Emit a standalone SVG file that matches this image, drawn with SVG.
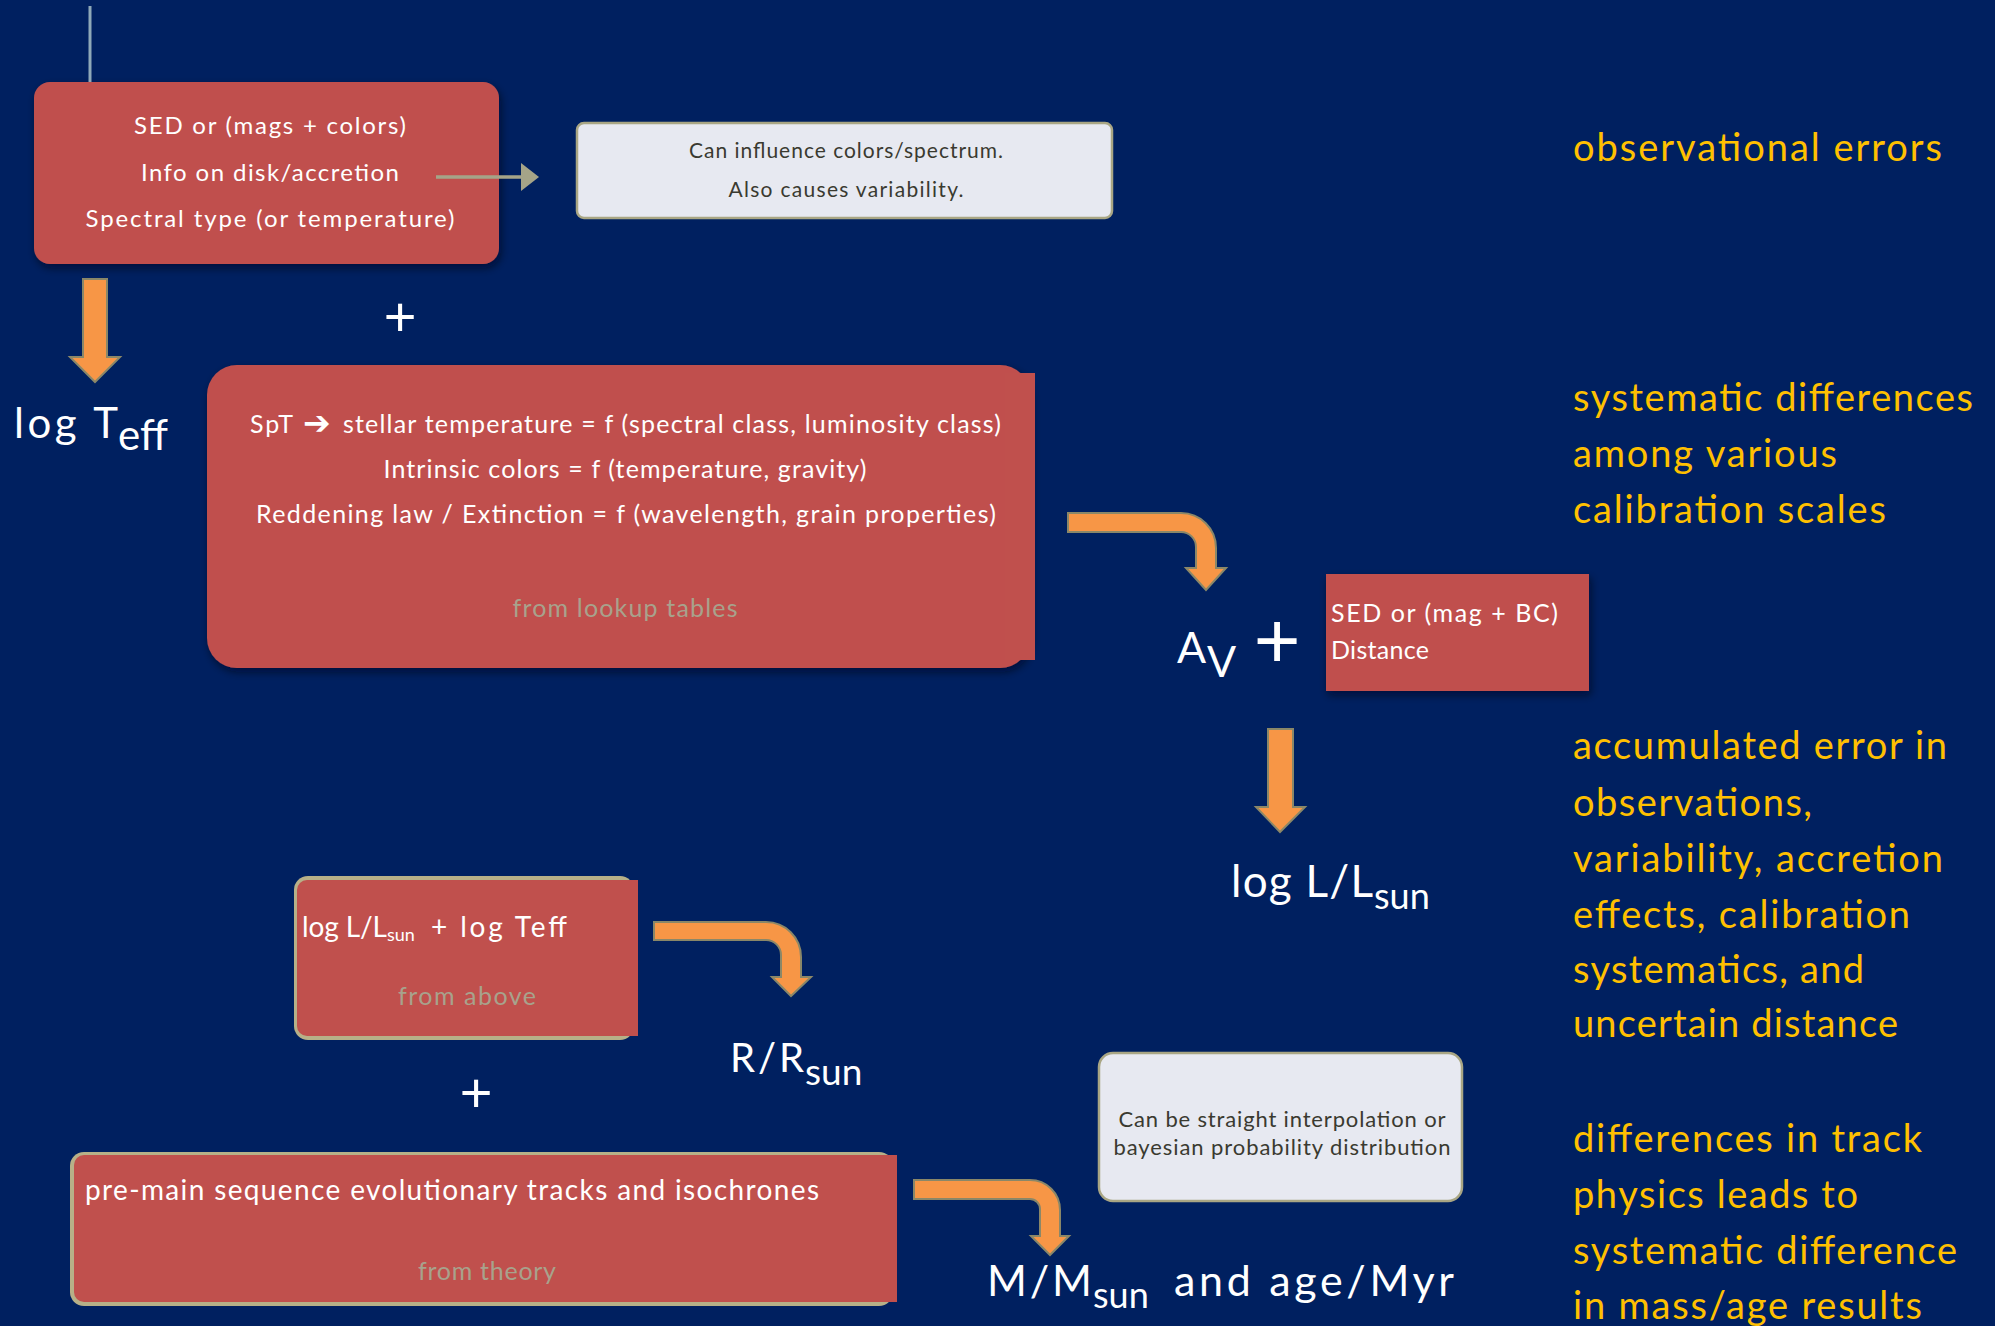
<svg xmlns="http://www.w3.org/2000/svg" width="1995" height="1326" viewBox="0 0 1995 1326">
<defs>
<filter id="sh" x="-10%" y="-10%" width="120%" height="130%">
<feDropShadow dx="2" dy="4" stdDeviation="4" flood-color="#000010" flood-opacity="0.55"/>
</filter>
<style>
text{font-family:Lato,"DejaVu Sans",sans-serif}
.w{fill:#ffffff}
.dk{fill:#3a3a30}
.tan{fill:#a8a28c}
.y{fill:#ffc000;font-size:38px}
.red{fill:#c0504d}
.lt{fill:#e7e9f1;stroke:#a9a684;stroke-width:2.5}
.bd{fill:#b7b088}
.oa{fill:#f79646;stroke:#8a8768;stroke-width:2}
.plus{font-family:"Liberation Sans",sans-serif;fill:#ffffff}
.m{text-anchor:middle}
.arw{font-family:"DejaVu Sans",sans-serif;font-weight:bold}
</style>
</defs>
<rect width="1995" height="1326" fill="#002060"/>

<g id="node-observations">
<rect class="red" x="34" y="82" width="465" height="182" rx="16" filter="url(#sh)"/>
<text class="w m" x="270" y="134" font-size="24" textLength="272">SED or (mags + colors)</text>
<text class="w m" x="270" y="181" font-size="24" textLength="258">Info on disk/accretion</text>
<text class="w m" x="270" y="227" font-size="24" textLength="369">Spectral type (or temperature)</text>
</g>

<g id="node-note-accretion">
<rect class="lt" x="577" y="123" width="535" height="95" rx="7"/>
<text class="dk m" x="846" y="158" font-size="21" textLength="314">Can influence colors/spectrum.</text>
<text class="dk m" x="846" y="197" font-size="21" textLength="235">Also causes variability.</text>
</g>

<g id="node-plus1"><text class="plus m" x="400" y="336" font-size="56">+</text></g>

<g id="node-logteff">
<text class="w" x="14" y="438" font-size="42" textLength="104">log T</text>
<text class="w" x="118" y="450" font-size="42" textLength="50">eff</text>
</g>

<g id="node-lookup">
<rect class="red" x="207" y="365" width="823" height="303" rx="30" filter="url(#sh)"/>
<rect class="red" x="1005" y="373" width="30" height="287"/>
<text class="w" x="250" y="433" font-size="25" textLength="43">SpT</text>
<text class="w arw" x="303" y="434" font-size="33">➔</text>
<text class="w" x="343" y="433" font-size="25" textLength="658">stellar temperature = f (spectral class,  luminosity class)</text>
<text class="w m" x="625" y="478" font-size="25" textLength="483">Intrinsic colors = f (temperature, gravity)</text>
<text class="w m" x="626" y="523" font-size="25" textLength="740">Reddening law / Extinction = f (wavelength, grain properties)</text>
<text class="tan m" x="625" y="617" font-size="25" textLength="225">from lookup tables</text>
</g>

<g id="node-av">
<text class="w" x="1177" y="663" font-size="43">A</text>
<text class="w" x="1207" y="677" font-size="43">V</text>
</g>
<g id="node-plus2"><text class="plus m" x="1277" y="668" font-size="80">+</text></g>

<g id="node-sed">
<rect class="red" x="1326" y="574" width="263" height="117" filter="url(#sh)"/>
<text class="w" x="1331" y="622" font-size="25" textLength="227">SED or (mag + BC)</text>
<text class="w" x="1331" y="659" font-size="25" textLength="98">Distance</text>
</g>

<g id="node-loglum">
<text class="w" x="1231" y="897" font-size="44" textLength="142">log L/L</text>
<text class="w" x="1374" y="909" font-size="36">sun</text>
</g>

<g id="node-radius-input">
<rect class="bd" x="294" y="876" width="340" height="164" rx="14"/>
<rect class="red" x="297" y="880" width="330" height="156" rx="10"/>
<rect class="red" x="600" y="880" width="38" height="156"/>
<text class="w" x="302" y="937" font-size="28" textLength="85">log L/L</text>
<text class="w" x="387" y="941" font-size="18">sun</text>
<text class="w" x="431" y="937" font-size="28" textLength="136">+ log Teff</text>
<text class="tan m" x="467" y="1005" font-size="25" textLength="138">from above</text>
</g>

<g id="node-radius">
<text class="w" x="730" y="1072" font-size="40" textLength="74">R/R</text>
<text class="w" x="805" y="1085" font-size="37">sun</text>
</g>

<g id="node-plus3"><text class="plus m" x="476" y="1112" font-size="56">+</text></g>

<g id="node-tracks">
<rect class="bd" x="70" y="1152" width="823" height="154" rx="14"/>
<rect class="red" x="74" y="1155" width="800" height="147" rx="10"/>
<rect class="red" x="850" y="1155" width="47" height="147"/>
<text class="w" x="85" y="1200" font-size="28" textLength="734">pre-main sequence evolutionary tracks and isochrones</text>
<text class="tan m" x="487" y="1280" font-size="25" textLength="138">from theory</text>
</g>

<g id="node-note-interp">
<rect class="lt" x="1099" y="1053" width="363" height="148" rx="14"/>
<text class="dk m" x="1282" y="1127" font-size="22" textLength="327">Can be straight interpolation or</text>
<text class="dk m" x="1282" y="1155" font-size="22" textLength="337">bayesian probability distribution</text>
</g>

<g id="node-mass-age">
<text class="w" x="987" y="1296" font-size="43" textLength="105">M/M</text>
<text class="w" x="1093" y="1308" font-size="36">sun</text>
<text class="w" x="1174" y="1296" font-size="43" textLength="280">and age/Myr</text>
</g>

<g id="node-errors">
<text class="y" x="1573" y="161" textLength="369">observational errors</text>
<text class="y" x="1573" y="411" textLength="400">systematic differences</text>
<text class="y" x="1573" y="467" textLength="264">among various</text>
<text class="y" x="1573" y="523" textLength="313">calibration scales</text>
<text class="y" x="1573" y="759" textLength="374">accumulated error in</text>
<text class="y" x="1573" y="816" textLength="239">observations,</text>
<text class="y" x="1573" y="872" textLength="370">variability, accretion</text>
<text class="y" x="1573" y="928" textLength="337">effects, calibration</text>
<text class="y" x="1573" y="983" textLength="291">systematics, and</text>
<text class="y" x="1573" y="1037" textLength="325">uncertain distance</text>
<text class="y" x="1573" y="1152" textLength="349">differences in track</text>
<text class="y" x="1573" y="1208" textLength="285">physics leads to</text>
<text class="y" x="1573" y="1264" textLength="384">systematic difference</text>
<text class="y" x="1573" y="1319" textLength="349">in mass/age results</text>
</g>

<g id="connectors">
<line x1="90" y1="6" x2="90" y2="82" stroke="#8fa9b8" stroke-width="3"/>
<line x1="436" y1="177" x2="523" y2="177" stroke="#a5a488" stroke-width="3.5"/>
<polygon points="521,163 539,177 521,191" fill="#a5a488"/>
<path class="oa" d="M83,279 H107 V357 H120 L95,382 L70,357 H83 Z"/>
<path class="oa" d="M1068,513 H1181 A35,35 0 0 1 1216,548 V568 H1226 L1206,590 L1186,568 H1196 V547 A15,15 0 0 0 1181,532 H1068 Z"/>
<path class="oa" d="M1268,729 H1293 V807 H1305 L1280,832 L1256,807 H1268 Z"/>
<path class="oa" d="M654,922 H766 A35,35 0 0 1 801,957 V977 H811 L791,996 L772,977 H781 V955 A15,15 0 0 0 766,940 H654 Z"/>
<path class="oa" d="M914,1180 H1030 A30,30 0 0 1 1060,1210 V1236 H1069 L1050,1255 L1031,1236 H1040 V1209 A10,10 0 0 0 1030,1199 H914 Z"/>
</g>
</svg>
